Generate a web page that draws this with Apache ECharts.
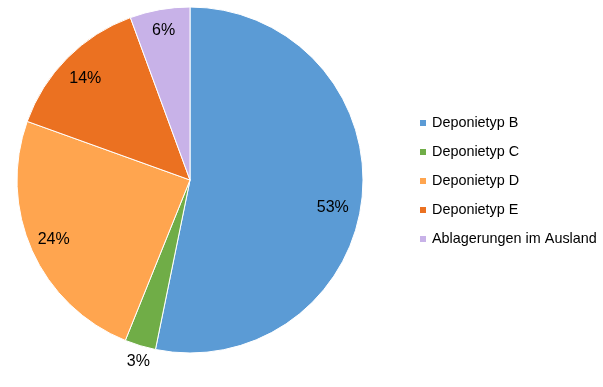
<!DOCTYPE html>
<html><head><meta charset="utf-8">
<script src="https://cdn.jsdelivr.net/npm/echarts@6/dist/echarts.min.js"></script>
<style>html,body{margin:0;padding:0;background:#fff}#c{width:603px;height:387px}</style>
</head><body><div id="c"></div>
<script>
var categories = ['Deponietyp B', 'Deponietyp C', 'Deponietyp D', 'Deponietyp E', 'Ablagerungen im Ausland'];
var values = [53.2, 2.9, 24.4, 13.9, 5.6];

var chart = echarts.init(document.getElementById('c'));
var font = 'Liberation Sans, Arial, sans-serif';
var style = {
  colors: ['#5B9BD5', '#70AD47', '#FFA54F', '#EB7121', '#C8B2E8'],
  outside: [false, true, false, false, false],
  nudge: [[-7, 12], [17, 8], [1, -2], [2, 5], [0, -1]]
};
var mainData = categories.map(function (n, i) {
  return { name: n, value: values[i], itemStyle: { color: style.colors[i] } };
});
var labelData = categories.map(function (n, i) {
  var d = { name: n, value: values[i], label: { offset: style.nudge[i] } };
  if (style.outside[i]) d.label.position = 'outside';
  return d;
});
chart.setOption({
  animation: false,
  legend: {
    orient: 'vertical', left: 413, top: 111,
    itemWidth: 8, itemHeight: 8, itemGap: 15, icon: 'rect',
    textStyle: { fontFamily: font, fontSize: 14.4, color: '#000', lineHeight: 13 },
    data: categories
  },
  series: [{
    type: 'pie', center: [190, 180], radius: [0, 173], startAngle: 90, clockwise: true,
    label: { show: false }, labelLine: { show: false },
    itemStyle: { borderColor: '#fff', borderWidth: 1 },
    emphasis: { disabled: true },
    data: mainData
  }, {
    type: 'pie', center: [190, 180], radius: [122, 173], startAngle: 90, clockwise: true,
    silent: true, legendHoverLink: false,
    itemStyle: { color: 'rgba(0,0,0,0)' },
    label: {
      show: true, position: 'inside', fontFamily: font, fontSize: 16, color: '#000',
      formatter: function (p) { return Math.round(p.value) + '%'; }
    },
    labelLine: { show: false, length: 8, length2: 0 },
    emphasis: { disabled: true },
    data: labelData
  }]
});
</script></body></html>
